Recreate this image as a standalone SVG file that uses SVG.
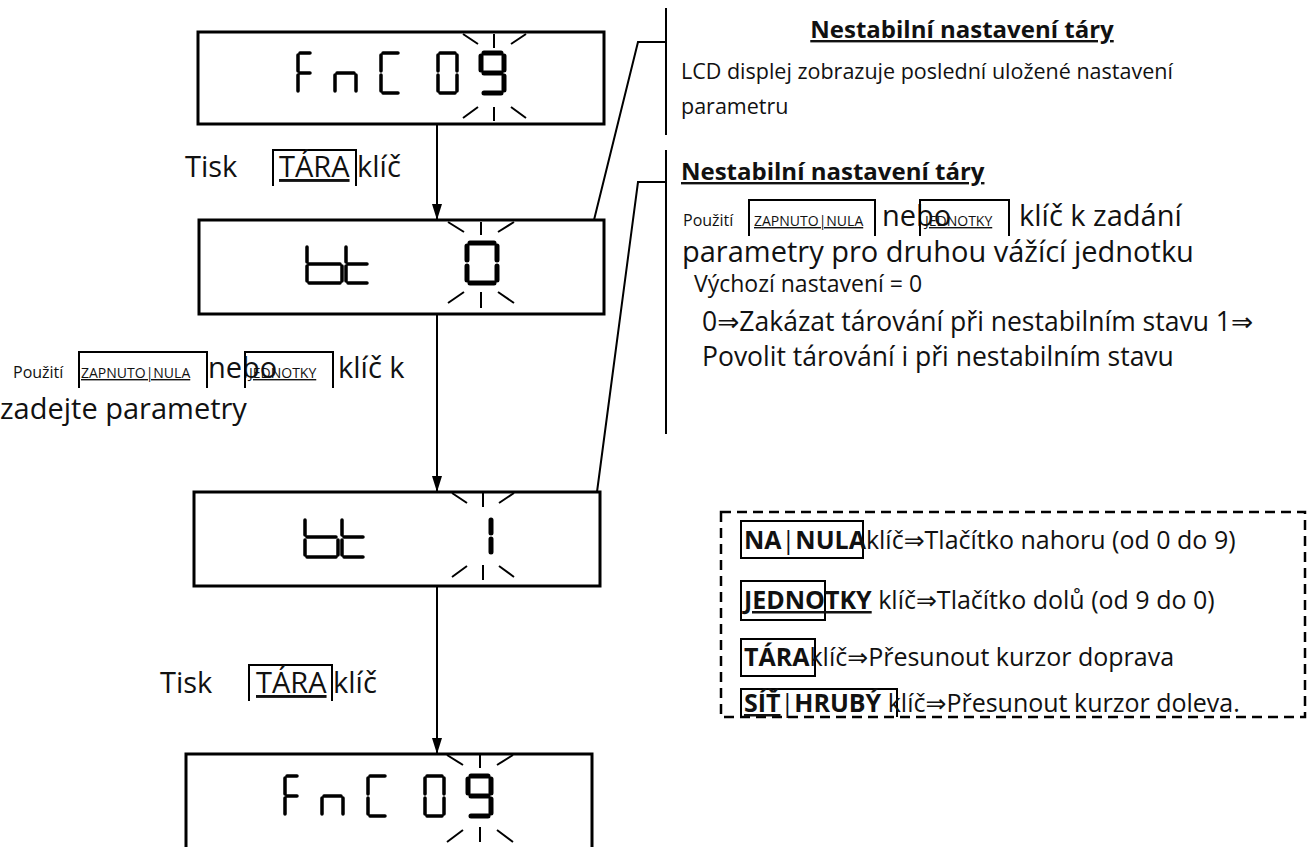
<svg xmlns="http://www.w3.org/2000/svg" width="1309" height="847" viewBox="0 0 1309 847">
<defs>
<style>
.box{fill:none;stroke:#000;stroke-width:3}
.seg{fill:none;stroke:#000;stroke-width:3.5;stroke-linecap:round}
.segb{fill:none;stroke:#000;stroke-width:5;stroke-linecap:round}
.ray{fill:none;stroke:#000;stroke-width:2}
.kb{fill:none;stroke:#000;stroke-width:2}
.ln{fill:none;stroke:#000;stroke-width:2}
.t{font-family:"Open Sans","Noto Sans","DejaVu Sans",sans-serif;fill:#111}
.big{font-size:29px}
.mid{font-size:26.5px}
.sm{font-size:21.5px}
.vy{font-size:23px}
.xs{font-size:16px}
.key{font-size:14px;text-decoration:underline}
.ttl{font-size:24px;font-weight:bold;text-decoration:underline}
.dt{font-size:25px}
.b{font-weight:bold}
.u{text-decoration:underline}
</style>
<marker id="ah" viewBox="0 0 16 10" refX="16" refY="5" markerWidth="16" markerHeight="10" markerUnits="userSpaceOnUse" orient="auto">
<path d="M0,0 L16,5 L0,10 Z" fill="#000"/>
</marker>
</defs>
<rect width="1309" height="847" fill="#fff"/>

<g id="display1">
<rect class="box" x="198" y="32" width="406" height="92"/>
<path class="seg" d="M300,53H310M298,55V71M298,75V91M300,73H310"/>
<path class="seg" d="M335,75V91M337,73H354M356,75V91"/>
<path class="seg" d="M383,53H398M381,55V71M381,75V91M383,93H398"/>
<path class="seg" d="M440,53H455M457,55V71M457,75V91M440,93H455M438,75V91M438,55V71"/>
<path class="segb" d="M484,53H501M504,56V70M504,76V90M484,93H501M481,56V70M484,73H501"/>
<path class="ray" d="M494,34V48M463,34L478,44M511,44L526,34M494,107V121M463,118L478,107M511,107L526,118"/>
</g>

<g id="display2">
<rect class="box" x="199" y="220" width="405" height="94"/>
<path class="seg" d="M307,247V262M307,266V281M309,264H340M342,266V281M309,283H340"/>
<path class="seg" d="M346,247V262M346,266V281M348,264H367M348,283H367"/>
<path class="segb" d="M470,243H494M497,246V260M497,266V280M470,283H494M467,266V280M467,246V260"/>
<path class="ray" d="M481,222V235M448,222L464,232M498,232L514,222M481,292V308M448,303L464,292M498,292L514,303"/>
</g>

<g id="display3">
<rect class="box" x="194" y="492" width="406" height="94"/>
<path class="seg" d="M305,520V535M305,540V555M307,537H336M338,540V555M307,557H336"/>
<path class="seg" d="M342,520V535M342,540V555M344,537H363M344,557H363"/>
<path class="segb" d="M491,520V533M491,539V552"/>
<path class="ray" d="M483,493V507M452,493L467,503M499,503L514,493M483,565V580M452,577L467,566M499,566L514,577"/>
</g>

<g id="display4">
<rect class="box" x="186" y="754" width="406" height="100"/>
<path class="seg" d="M287,776H297M285,778V794M285,798V814M287,796H297"/>
<path class="seg" d="M322,798V814M324,796H341M343,798V814"/>
<path class="seg" d="M370,776H385M368,778V794M368,798V814M370,816H385"/>
<path class="seg" d="M427,776H442M444,778V794M444,798V814M427,816H442M425,798V814M425,778V794"/>
<path class="segb" d="M471,776H488M491,779V793M491,799V813M471,816H488M468,779V793M471,796H488"/>
<path class="ray" d="M480,755V768M447,755L463,765M497,765L513,755M480,827V842M447,842L463,830M497,830L513,842"/>
</g>

<g id="connectors">
<line class="ln" x1="437" y1="124" x2="437" y2="220" marker-end="url(#ah)"/>
<line class="ln" x1="437" y1="314" x2="437" y2="492" marker-end="url(#ah)"/>
<line class="ln" x1="437" y1="586" x2="437" y2="754" marker-end="url(#ah)"/>
<path class="ln" d="M594,220L638,42H666"/>
<path class="ln" d="M597,492L638,182H666"/>
<line class="ln" x1="666" y1="8" x2="666" y2="135"/>
<line class="ln" x1="666" y1="150" x2="666" y2="434"/>
</g>

<g id="press1">
<text class="t big" x="185" y="177">Tisk</text>
<path class="kb" d="M273,186V150H356V186"/>
<text class="t big u" x="279" y="177">TÁRA</text>
<text class="t big" x="357" y="177">klíč</text>
</g>

<g id="use-left">
<text class="t xs" x="13" y="378">Použití</text>
<path class="kb" d="M79,388V352H207V388"/>
<text class="t key" x="81" y="378">ZAPNUTO|NULA</text>
<text class="t big" x="208" y="378">nebo</text>
<path class="kb" d="M245,388V352H333V388"/>
<text class="t key" x="249" y="378">JEDNOTKY</text>
<text class="t big" x="338" y="378">klíč k</text>
<text class="t big" x="0" y="419">zadejte parametry</text>
</g>

<g id="press2">
<text class="t big" x="160" y="693">Tisk</text>
<path class="kb" d="M249,701V665H332V701"/>
<text class="t big u" x="256" y="693">TÁRA</text>
<text class="t big" x="333" y="693">klíč</text>
</g>

<g id="note1">
<text class="t ttl" x="962" y="38" text-anchor="middle">Nestabilní nastavení táry</text>
<text class="t sm" x="681" y="79">LCD displej zobrazuje poslední uložené nastavení</text>
<text class="t sm" x="681" y="114">parametru</text>
</g>

<g id="note2">
<text class="t ttl" x="681" y="180">Nestabilní nastavení táry</text>
<text class="t xs" x="683" y="226">Použití</text>
<path class="kb" d="M749,236V200H875V236"/>
<text class="t key" x="754" y="226">ZAPNUTO|NULA</text>
<text class="t big" x="882" y="226">nebo</text>
<path class="kb" d="M920,236V200H1009V236"/>
<text class="t key" x="925" y="226">JEDNOTKY</text>
<text class="t big" x="1019" y="226">klíč k zadání</text>
<text class="t big" x="682" y="262">parametry pro druhou vážící jednotku</text>
<text class="t vy" x="694" y="292">Výchozí nastavení = 0</text>
<text class="t mid" x="702" y="331">0⇒Zakázat tárování při nestabilním stavu 1⇒</text>
<text class="t mid" x="702" y="366">Povolit tárování i při nestabilním stavu</text>
</g>

<g id="legend">
<rect x="721" y="512" width="584" height="205" fill="none" stroke="#000" stroke-width="2.5" stroke-dasharray="10 6"/>
<rect class="kb" x="741" y="521" width="122" height="37"/>
<text class="t dt" x="744" y="549"><tspan class="b">NA</tspan>|<tspan class="b">NULA</tspan>klíč⇒Tlačítko nahoru (od 0 do 9)</text>
<rect class="kb" x="741" y="581" width="84" height="39"/>
<text class="t dt" x="744" y="609"><tspan class="b u">JEDNOTKY</tspan> klíč⇒Tlačítko dolů (od 9 do 0)</text>
<rect class="kb" x="741" y="639" width="74" height="37"/>
<text class="t dt" x="744" y="666"><tspan class="b">TÁRA</tspan>klíč⇒Přesunout kurzor doprava</text>
<path class="kb" d="M741,717V689H897V717"/>
<text class="t dt" x="744" y="712"><tspan class="b u">SÍŤ</tspan>|<tspan class="b">HRUBÝ</tspan> klíč⇒Přesunout kurzor doleva.</text>
</g>
</svg>
